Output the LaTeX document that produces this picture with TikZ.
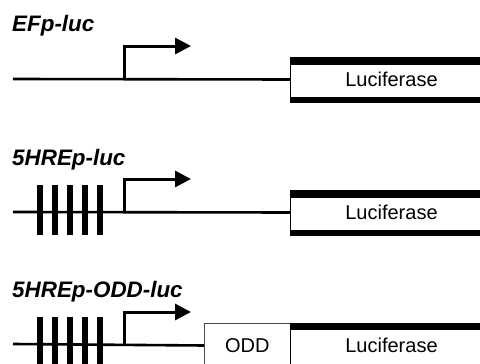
\documentclass[tikz,border=0pt]{standalone}
\usepackage{fontspec}
\setmainfont{Liberation Sans}
\usetikzlibrary{arrows.meta}

\begin{document}
\begin{tikzpicture}[x=1pt,y=-1pt,
  title/.style={anchor=base west, inner sep=0pt,
    font=\fontsize{22.4}{22}\selectfont\bfseries\itshape},
  dna/.style={line width=2.6pt},
  tss/.style={line width=3pt, line join=miter,
    -{Triangle[length=16pt,width=16pt]}},
  hre/.style={fill=black, draw=none, inner sep=0pt, minimum width=6.5pt},
  lucbox/.style={draw, line width=1pt, fill=white, inner sep=0pt,
    minimum width=202pt, minimum height=45pt, anchor=west,
    font=\fontsize{20}{20}\selectfont},
  oddbox/.style={draw=black!70, line width=0.7pt, fill=white, inner sep=0pt,
    minimum width=86pt, minimum height=45pt, anchor=west,
    font=\fontsize{20}{20}\selectfont},
  band/.style={fill=black}
]
\useasboundingbox (0,0) rectangle (480,364);
\clip (0,0) rectangle (480,364);

% ---------- EFp-luc ----------
\node[title] (t1) at (12,31) {EFp-luc};
\coordinate (s1) at (13,79);
\coordinate (p1) at (124,79);
\coordinate (a1) at (191,46);
\node[lucbox] (L1) at (290,79.5) {Luciferase};
\fill[band] (L1.north west) rectangle ([yshift=-8pt]L1.north east);
\fill[band] (L1.south west) rectangle ([yshift=6pt]L1.south east);
\draw[dna] (s1) -- (L1.west);
\draw[tss] (p1) |- (a1);

% ---------- 5HREp-luc ----------
\node[title] (t2) at (12,165) {5HREp-luc};
\coordinate (s2) at (13,212);
\coordinate (p2) at (124,212);
\coordinate (a2) at (191,179);
\node[lucbox] (L2) at (290,212.5) {Luciferase};
\fill[band] (L2.north west) rectangle ([yshift=-8pt]L2.north east);
\fill[band] (L2.south west) rectangle ([yshift=6pt]L2.south east);
\draw[dna] (s2) -- (L2.west);
\foreach \x [count=\i] in {40,55,70,85,100}
  \node[hre, minimum height=50pt] (h2\i) at (\x,210) {};
\draw[tss] (p2) |- (a2);

% ---------- 5HREp-ODD-luc ----------
\node[title] (t3) at (12,297) {5HREp-ODD-luc};
\coordinate (s3) at (13,344);
\coordinate (p3) at (124,344);
\coordinate (a3) at (191,312);
\node[oddbox] (O3) at (204,345.5) {ODD};
\node[lucbox] (L3) at (290,345.5) {Luciferase};
\fill[band] (L3.north west) rectangle ([yshift=-7pt]L3.north east);
\draw[dna] (s3) -- (O3.west);
\foreach \x [count=\i] in {40,55,70,85,100}
  \node[hre, minimum height=54pt] (h3\i) at (\x,344) {};
\draw[tss] (p3) |- (a3);
\end{tikzpicture}
\end{document}
